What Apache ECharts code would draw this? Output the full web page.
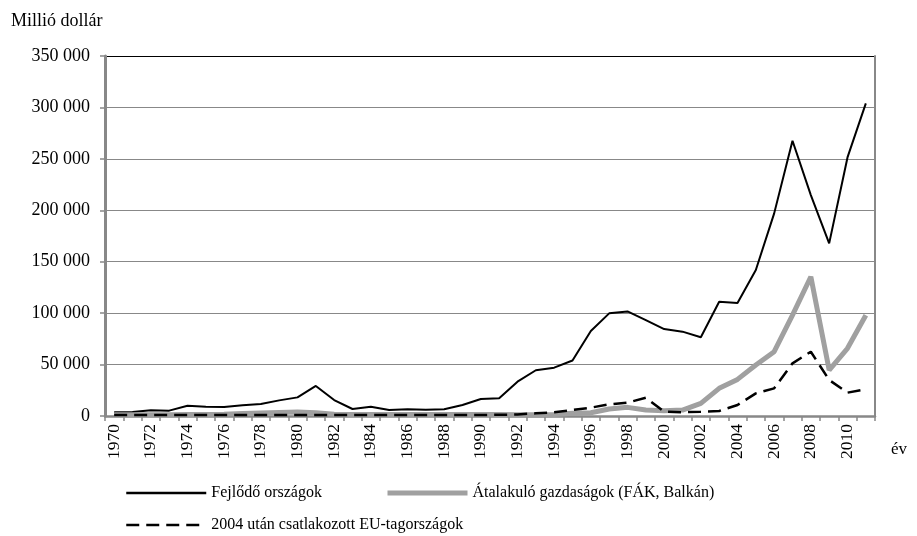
<!DOCTYPE html>
<html>
<head>
<meta charset="utf-8">
<script src="https://cdn.jsdelivr.net/npm/echarts@6/dist/echarts.min.js"></script>
<style>
  html, body { margin: 0; padding: 0; background: #fff; }
  #chart { width: 917px; height: 536px; }
</style>
</head>
<body>
<div id="chart"></div>
<script>
// years 1970 - 2011
const years = []
for (let y = 1970; y <= 2011; y++) years.push(String(y))

// Millió dollár
const fejlodo = [
  3600, 3900, 5500, 5200, 10000, 9000, 8700, 10400, 11700, 15200,
  18100, 29200, 15500, 6800, 9000, 5800, 6500, 6100, 6500, 10700,
  16500, 17200, 33400, 44500, 47000, 54000, 82600, 99800, 101700, 93300,
  84500, 82000, 76500, 111100, 109800, 141900, 197000, 267600, 214800, 167800,
  251400, 303900
]
const atalakulo = [
  1200, 1200, 1300, 1300, 1400, 1500, 1600, 2500, 3000, 3500,
  4000, 3200, 1800, 1500, 1500, 1500, 1500, 1500, 1500, 1500,
  1500, 1500, 1200, 1200, 1500, 2600, 3200, 6800, 8400, 5800,
  5200, 5800, 12300, 26900, 35600, 49600, 62500, 98000, 135400, 44700,
  65800, 98000
]
const euTag = [
  1000, 1000, 1000, 1000, 1000, 1000, 1000, 1000, 1000, 1000,
  1000, 1000, 1000, 1000, 1000, 1000, 1000, 1000, 1000, 1000,
  1000, 1200, 1500, 2600, 3600, 5800, 8100, 11300, 12900, 17800,
  4200, 3600, 4200, 4900, 10700, 22000, 26900, 51200, 62500, 35000,
  22700, 25900
]
const seriesNames = [
  'Fejlődő országok',
  'Átalakuló gazdaságok (FÁK, Balkán)',
  '2004 után csatlakozott EU-tagországok'
]

const font = '"Liberation Serif", "Times New Roman", serif'
const gridColor = '#888'

const chart = echarts.init(document.getElementById('chart'), null, { renderer: 'canvas' })

function fmt(v) {
  return String(v).replace(/\B(?=(\d{3})+(?!\d))/g, ' ')
}

function legendAt(name, left, top, lineWidth) {
  return {
    data: [name],
    left: left,
    top: top,
    itemWidth: 80,
    itemHeight: 14,
    itemGap: 5,
    itemStyle: { opacity: 0 },
    lineStyle: { width: lineWidth },
    textStyle: { fontFamily: font, fontSize: 16, color: '#000' }
  }
}

chart.setOption({
  animation: false,
  backgroundColor: '#fff',
  textStyle: { fontFamily: font },
  title: [
    { text: 'Millió dollár', left: 6, top: 7,
      textStyle: { fontFamily: font, fontSize: 18, fontWeight: 'normal', color: '#000' } },
    { text: 'év', left: 886, top: 436,
      textStyle: { fontFamily: font, fontSize: 17, fontWeight: 'normal', color: '#000' } }
  ],
  legend: [
    legendAt(seriesNames[0], 120, 480, 2.5),
    legendAt(seriesNames[1], 380, 480, 5),
    legendAt(seriesNames[2], 120, 512, 2.5)
  ],
  grid: { left: 105, right: 42, top: 56, bottom: 120, containLabel: false },
  xAxis: {
    type: 'category',
    data: years,
    boundaryGap: true,
    axisLine: { lineStyle: { color: gridColor, width: 2.5 } },
    axisTick: { show: true, interval: 0, length: 5, lineStyle: { color: gridColor, width: 1.5 } },
    axisLabel: { interval: 1, rotate: 90, margin: 8, fontFamily: font, fontSize: 17.5, color: '#000' },
    splitLine: { show: false }
  },
  yAxis: [
    {
      type: 'value',
      min: 0,
      max: 350000,
      interval: 50000,
      axisLine: { show: true, lineStyle: { color: gridColor, width: 3 } },
      axisTick: { show: true, length: 5, lineStyle: { color: gridColor, width: 1.5 } },
      axisLabel: { margin: 15, fontFamily: font, fontSize: 18, color: '#000', formatter: fmt },
      splitLine: {
        show: true,
        lineStyle: { color: [gridColor, gridColor, gridColor, gridColor, gridColor, gridColor, gridColor, '#000'], width: 1 }
      }
    },
    {
      type: 'value',
      position: 'right',
      min: 0,
      max: 350000,
      interval: 50000,
      axisLine: { show: true, lineStyle: { color: gridColor, width: 2 } },
      axisTick: { show: false },
      axisLabel: { show: false },
      splitLine: { show: false }
    }
  ],
  series: [
    {
      name: seriesNames[0],
      type: 'line',
      data: fejlodo,
      symbol: 'none',
      lineStyle: { color: '#000', width: 2 },
      itemStyle: { color: '#000' }
    },
    {
      name: seriesNames[1],
      type: 'line',
      data: atalakulo,
      symbol: 'none',
      lineStyle: { color: '#a0a0a0', width: 5 },
      itemStyle: { color: '#a0a0a0' }
    },
    {
      name: seriesNames[2],
      type: 'line',
      data: euTag,
      symbol: 'none',
      lineStyle: { color: '#000', width: 2.5, type: [13, 7] },
      itemStyle: { color: '#000' }
    }
  ]
})
</script>
</body>
</html>
